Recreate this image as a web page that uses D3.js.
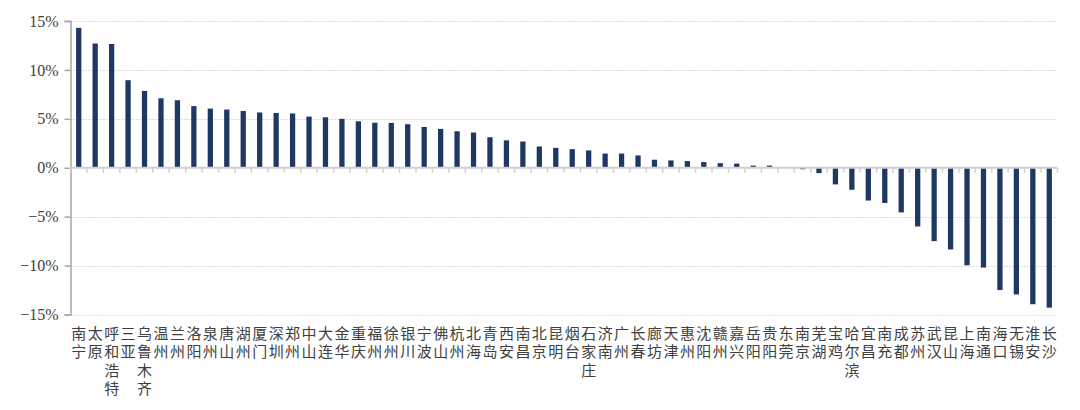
<!DOCTYPE html>
<html>
<head>
<meta charset="utf-8">
<script src="https://cdn.jsdelivr.net/npm/d3@7"></script>
<style>
  body { margin: 0; background: #fff; }
  svg { display: block; }
</style>
</head>
<body>
<div id="container"></div>
<script>
let cities = ["南宁","太原","呼和浩特","三亚","乌鲁木齐","温州","兰州","洛阳","泉州","唐山",
              "湖州","厦门","深圳","郑州","中山","大连","金华","重庆","福州","徐州",
              "银川","宁波","佛山","杭州","北海","青岛","西安","南昌","北京","昆明",
              "烟台","石家庄","济南","广州","长春","廊坊","天津","惠州","沈阳","赣州",
              "嘉兴","岳阳","贵阳","东莞","南京","芜湖","宝鸡","哈尔滨","宜昌","南充",
              "成都","苏州","武汉","昆山","上海","南通","海口","无锡","淮安","长沙"];
let values = [14.3,12.7,12.65,8.95,7.85,7.1,6.9,6.3,6.05,5.95,
              5.8,5.65,5.6,5.55,5.23,5.16,5.0,4.75,4.6,4.58,
              4.45,4.17,3.97,3.73,3.6,3.12,2.8,2.68,2.17,2.03,
              1.9,1.77,1.45,1.45,1.26,0.82,0.75,0.68,0.58,0.47,
              0.42,0.22,0.22,0.02,-0.15,-0.55,-1.7,-2.25,-3.35,-3.6,
              -4.56,-6.0,-7.5,-8.35,-9.97,-10.2,-12.5,-12.95,-13.95,-14.3];
let yTicks = [-15,-10,-5,0,5,10,15];

let width = 1080, height = 410;
let mLeft = 70.5, mRight = 1057.5, mTop = 21, mBottom = 314.5;

const svg = d3.select("#container")
              .append("svg")
              .attr("width",width)
              .attr("height",height);

const x = d3.scaleBand()
            .domain(cities)
            .range([mLeft,mRight])
            .paddingInner(0.68)
            .paddingOuter(0.34);

const y = d3.scaleLinear()
            .domain([-15,15])
            .range([mBottom,mTop]);

// dotted grid
svg.append("g")
   .selectAll("line")
   .data(yTicks.filter(d => d !== 0))
   .enter()
   .append("line")
   .attr("x1",mLeft)
   .attr("x2",mRight)
   .attr("y1",d => Math.round(y(d)) + 0.5)
   .attr("y2",d => Math.round(y(d)) + 0.5)
   .attr("stroke","#b8b8b8")
   .attr("stroke-width",1)
   .attr("stroke-dasharray","1,2");

// y axis
const yAxis = d3.axisLeft(y)
                .tickValues(yTicks)
                .tickSize(6)
                .tickFormat(d => (d < 0 ? "\u2212" + (-d) : d) + "%");

const ga = svg.append("g")
              .attr("transform","translate(" + mLeft + ",0)")
              .call(yAxis);
ga.select(".domain").attr("stroke","#a6a6a6").attr("stroke-width",1.5);
ga.selectAll(".tick line").attr("stroke","#a6a6a6").attr("stroke-width",1.5);
ga.selectAll(".tick text")
  .attr("x",-12)
  .attr("fill","#404040")
  .style("font-family","'Liberation Serif', 'DejaVu Serif', serif")
  .style("font-size","16px");

// bars
svg.append("g")
   .selectAll("rect")
   .data(values)
   .enter()
   .append("rect")
   .attr("x",(d,i) => x(cities[i]))
   .attr("width",x.bandwidth())
   .attr("y",d => y(Math.max(0,d)))
   .attr("height",d => Math.abs(y(d) - y(0)))
   .attr("fill","#1f3763");

// zero line with category ticks
let step = x.step();
svg.append("g")
   .selectAll("line")
   .data(d3.range(cities.length + 1))
   .enter()
   .append("line")
   .attr("x1",i => mLeft + i*step)
   .attr("x2",i => mLeft + i*step)
   .attr("y1",y(0))
   .attr("y2",y(0) + 5)
   .attr("stroke","#d0d0d0")
   .attr("stroke-width",1.5);

svg.append("line")
   .attr("x1",mLeft)
   .attr("x2",mRight)
   .attr("y1",y(0))
   .attr("y2",y(0))
   .attr("stroke","#d0d0d0")
   .attr("stroke-width",2);

// vertical category labels (top-to-bottom writing)
svg.append("g")
   .selectAll("text")
   .data(cities)
   .enter()
   .append("text")
   .attr("x",d => x(d) + x.bandwidth()/2)
   .attr("y",326)
   .attr("fill","#404040")
   .style("writing-mode","vertical-rl")
   .style("text-orientation","upright")
   .style("letter-spacing","3.3px")
   .style("font-family","'Noto Sans CJK SC', sans-serif")
   .style("font-size","15px")
   .text(d => d);
</script>
</body>
</html>
